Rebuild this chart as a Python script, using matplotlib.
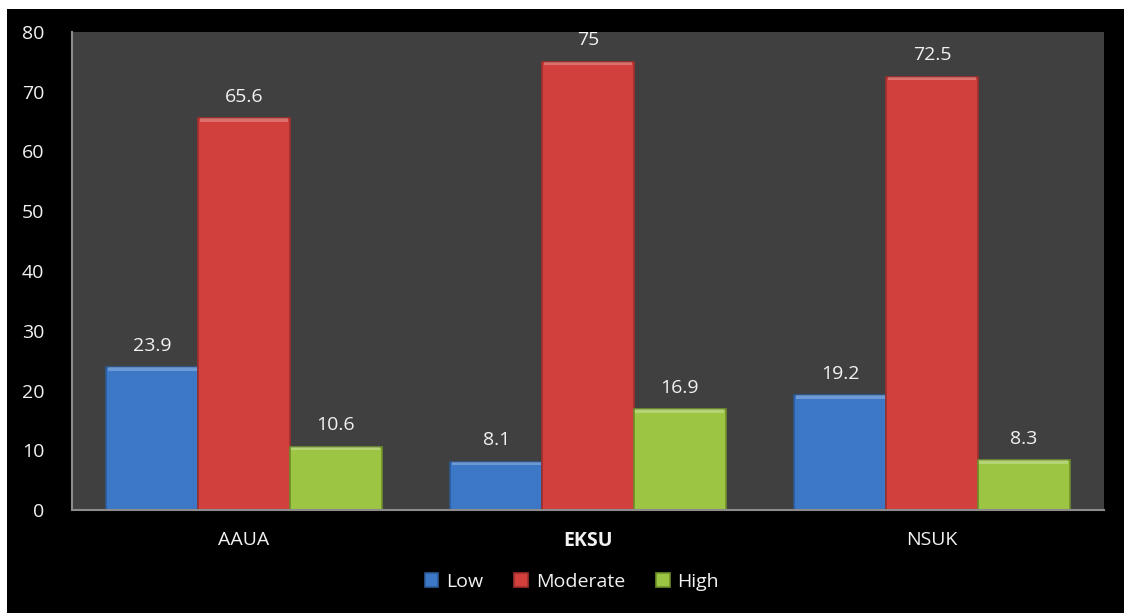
import matplotlib.pyplot as plt
import numpy as np
from matplotlib.patches import Rectangle

# ── Data ───────────────────────────────────────────────
universities = ["AAUA", "EKSU", "NSUK"]
levels = ["Low", "Moderate", "High"]
low = [23.9, 8.1, 19.2]
moderate = [65.6, 75, 72.5]
high = [10.6, 16.9, 8.3]

COLORS = {"Low": "#3D78C6", "Moderate": "#D2403D", "High": "#9CC543"}
EDGES = {"Low": "#2B5A96", "Moderate": "#9E2E2C", "High": "#6F8F2C"}
TEXT = "#F2F2F2"
FS = 14

plt.rcParams["font.family"] = ["Open Sans", "DejaVu Sans"]

fig = plt.figure(figsize=(11.24, 6.13), dpi=100, facecolor="white")
# black panel with a thin white strip on top/left, like the source screenshot
fig.patches.append(Rectangle((7 / 1124, 0), 1, (613 - 9) / 613,
                             transform=fig.transFigure, facecolor="black",
                             edgecolor="none", zorder=-10))

ax = fig.add_axes([72 / 1124, (613 - 510) / 613, (1104 - 72) / 1124, (510 - 32) / 613])
ax.set_facecolor("#404040")

x = np.arange(len(universities))
width = 0.8 / 3
series = [low, moderate, high]

for i, (name, vals) in enumerate(zip(levels, series)):
    pos = x + (i - 1) * width
    bars = ax.bar(pos, vals, width, color=COLORS[name], edgecolor=EDGES[name],
                  linewidth=1.2, label=name, zorder=2)
    # thin highlight across the top of each bar (bevel look)
    ax.bar(pos, [0.6] * len(vals), width * 0.97, bottom=[v - 0.6 for v in vals],
           color="white", alpha=0.25, linewidth=0, zorder=3)
    for b, v in zip(bars, vals):
        ax.annotate(f"{v:g}", (b.get_x() + b.get_width() / 2, v),
                    xytext=(0, 9), textcoords="offset points",
                    ha="center", va="bottom", color=TEXT, fontsize=FS)

ax.set_ylim(0, 80)
ax.set_xlim(-0.5, 2.5)
ax.set_yticks(range(0, 81, 10))
ax.set_xticks(x)
ax.set_xticklabels(universities)
ax.get_xticklabels()[1].set_fontweight("bold")

ax.tick_params(axis="y", length=0, pad=20, colors=TEXT, labelsize=FS)
ax.tick_params(axis="x", length=0, pad=15, colors=TEXT, labelsize=FS)

for side in ["top", "right"]:
    ax.spines[side].set_visible(False)
for side in ["left", "bottom"]:
    ax.spines[side].set_color("#8C8C8C")
    ax.spines[side].set_linewidth(1.5)

leg = fig.legend(loc="center", bbox_to_anchor=(572 / 1124, (613 - 582) / 613),
                 ncol=3, frameon=False, fontsize=FS, handlelength=0.7,
                 handleheight=0.7, handletextpad=0.4, columnspacing=1.6)
for t in leg.get_texts():
    t.set_color(TEXT)

fig.savefig("out.png", dpi=100, facecolor="white")
